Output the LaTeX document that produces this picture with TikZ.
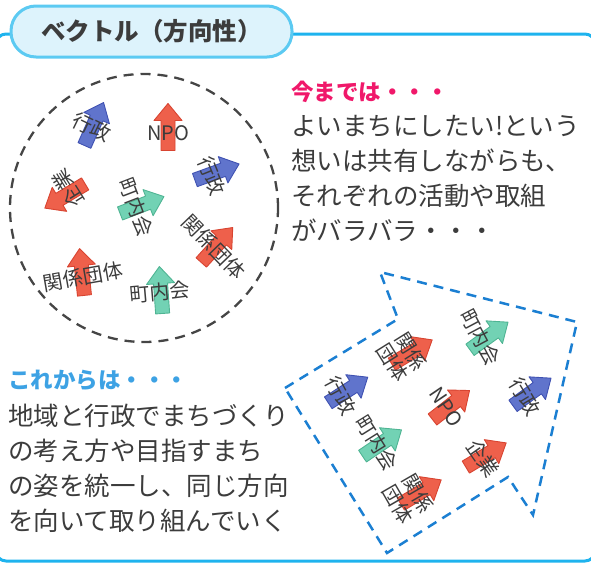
\documentclass[tikz,border=0pt]{standalone}
\usepackage{fontspec}
\setmainfont{Noto Sans CJK JP}
\definecolor{framec}{HTML}{1EB3EE}
\definecolor{pillfill}{HTML}{DDF3FC}
\definecolor{pilldraw}{HTML}{5CCAF2}
\definecolor{txt}{HTML}{3C3C3C}
\definecolor{pinkc}{HTML}{F0186A}
\definecolor{bluehead}{HTML}{3DA2E4}
\definecolor{dashblue}{HTML}{1B7FD2}
\definecolor{circc}{HTML}{454545}
\definecolor{redf}{HTML}{EE604B}
\definecolor{redd}{HTML}{D84431}
\definecolor{bluef}{HTML}{6074CC}
\definecolor{blued}{HTML}{4052B2}
\definecolor{greenf}{HTML}{72D2B4}
\definecolor{greend}{HTML}{4FB493}
\tikzset{
  blockarrow/.pic={
    \draw[pic actions] (-23.5,-7) -- (6.5,-7) -- (6.5,-14) -- (23.5,0) -- (6.5,14) -- (6.5,7) -- (-23.5,7) -- cycle;
  },
  redarr/.style={fill=redf, draw=redd, line width=0.9pt, line join=round},
  bluearr/.style={fill=bluef, draw=blued, line width=0.9pt, line join=round},
  greenarr/.style={fill=greenf, draw=greend, line width=0.9pt, line join=round},
  lab/.style={font=\fontsize{20}{22}\selectfont, text=txt, inner sep=0pt, align=center},
  bodytxt/.style={font=\fontsize{25.5}{25.5}\selectfont, text=txt, inner sep=0pt, anchor=west, text height=0.88em, text depth=0.12em},
  headtxt/.style={font=\fontsize{22.5}{22.5}\selectfont\bfseries, inner sep=0pt, anchor=west, text height=0.88em, text depth=0.12em},
}
\begin{document}
\begin{tikzpicture}[x=1pt,y=-1pt]
\useasboundingbox (0,0) rectangle (591,562);
% frame
\draw[framec, line width=3pt, rounded corners=10pt] (-4,34) rectangle (595,561);
% title
\node[draw=pilldraw, fill=pillfill, line width=3pt, rounded corners=25pt,
      minimum width=281pt, minimum height=51pt, inner sep=0pt,
      font=\fontsize{24.5}{24.5}\selectfont\bfseries, text=txt] (title) at (151.5,31.5) {ベクトル（方向性）};
% dashed circle
\draw[circc, line width=2.3pt, dash pattern=on 10pt off 7pt] (144,208) circle (134pt);
% circle arrows
\pic[bluearr, rotate=66] at (94,124) {blockarrow};
\node[lab, rotate=-26] (c1) at (92,127) {行政};
\pic[redarr, rotate=90] at (168,127) {blockarrow};
\node[lab] (c2) at (168,133) {NPO};
\pic[bluearr, rotate=20] at (217,172) {blockarrow};
\node[lab, rotate=-68] (c3) at (212,176) {行政};
\pic[redarr, rotate=211] at (65,196) {blockarrow};
\node[lab, rotate=122] (c4) at (68,189) {企業};
\pic[greenarr, rotate=21] at (142,205) {blockarrow};
\node[lab, rotate=-69] (c5) at (136,207) {町内会};
\pic[redarr, rotate=48] at (217,245) {blockarrow};
\node[lab, rotate=-46] (c6) at (214,247) {関係団体};
\pic[redarr, rotate=96] at (82,272) {blockarrow};
\node[lab, rotate=10] (c7) at (83,277) {関係団体};
\pic[greenarr, rotate=94] at (161,290) {blockarrow};
\node[lab, rotate=5] (c8) at (160,292) {町内会};
% big dashed arrow
\draw[dashblue, line width=2.5pt, dash pattern=on 10pt off 7pt, line join=miter]
  (285,388) -- (398,319) -- (380,272) -- (577,322) -- (533,515) -- (508,477) -- (387,553) -- cycle;
% arrows inside
\pic[bluearr, rotate=33] at (348,390) {blockarrow};
\node[lab, rotate=-62] (b1) at (341,396) {行政};
\pic[redarr, rotate=31] at (412,352) {blockarrow};
\node[lab, rotate=-58] (b2) at (402,357) {関係\\団体};
\pic[greenarr, rotate=36] at (489,336) {blockarrow};
\node[lab, rotate=-62] (b3) at (480,337) {町内会};
\pic[redarr, rotate=38] at (451,405) {blockarrow};
\node[lab, rotate=-56] (b4) at (446,407) {NPO};
\pic[bluearr, rotate=36] at (532,392) {blockarrow};
\node[lab, rotate=-59] (b5) at (525,397) {行政};
\pic[greenarr, rotate=34] at (382,443) {blockarrow};
\node[lab, rotate=-58] (b6) at (377,443) {町内会};
\pic[redarr, rotate=31] at (486,455) {blockarrow};
\node[lab, rotate=-55] (b7) at (483,458) {企業};
\pic[redarr, rotate=31] at (421,492) {blockarrow};
\node[lab, rotate=-60] (b8) at (408,499) {関係\\団体};
% right text
\node[headtxt, text=pinkc] (h1) at (291,97) {今までは・・・};
\node[bodytxt] (r1) at (291,132) {よいまちにしたい!という};
\node[bodytxt] (r2) at (291,167) {想いは共有しながらも、};
\node[bodytxt] (r3) at (291,202) {それぞれの活動や取組};
\node[bodytxt] (r4) at (291,237) {がバラバラ・・・};
% left text
\node[headtxt, text=bluehead] (h2) at (8,385) {これからは・・・};
\node[bodytxt] (l1) at (8,422) {地域と行政でまちづくり};
\node[bodytxt] (l2) at (8,457) {の考え方や目指すまち};
\node[bodytxt] (l3) at (8,492) {の姿を統一し、同じ方向};
\node[bodytxt] (l4) at (8,527) {を向いて取り組んでいく};
\end{tikzpicture}
\end{document}
